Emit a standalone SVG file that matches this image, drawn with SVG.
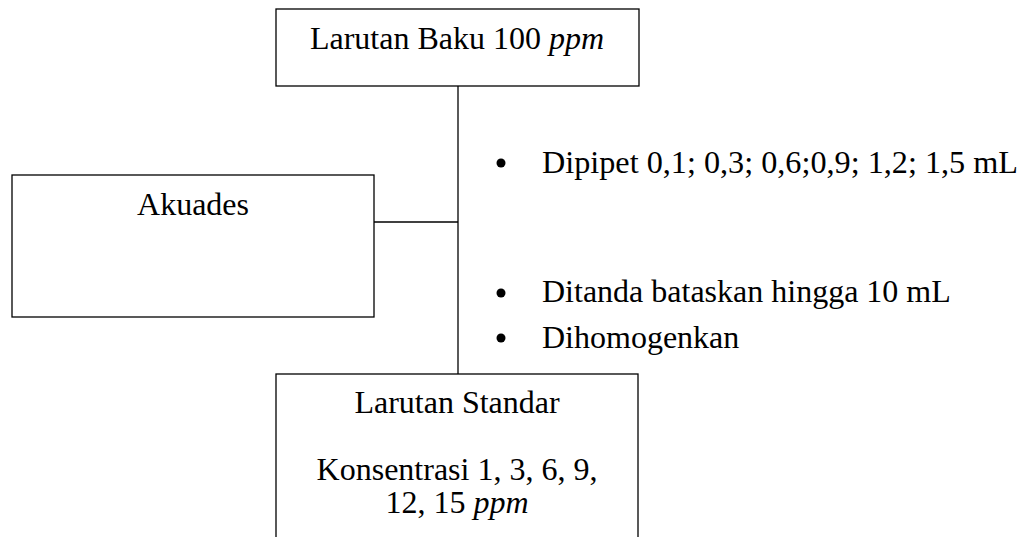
<svg xmlns="http://www.w3.org/2000/svg" width="1021" height="537" viewBox="0 0 1021 537">
<style>
.box{fill:#fff;stroke:#000;stroke-width:1.3}
.ln{stroke:#000;stroke-width:1.3;fill:none}
text{font-family:"Liberation Serif","Times New Roman",serif;font-size:32px;fill:#000}
.c{text-anchor:middle}
</style>
<rect width="1021" height="537" fill="#fff"/>
<g id="connectors">
<line class="ln" x1="458" y1="86" x2="458" y2="374"/>
<line class="ln" x1="374" y1="222" x2="458" y2="222"/>
</g>
<g id="node-baku">
<rect class="box" x="276" y="9" width="363" height="77"/>
<text class="c" x="457" y="49">Larutan Baku 100 <tspan font-style="italic">ppm</tspan></text>
</g>
<g id="node-akuades">
<rect class="box" x="12" y="175" width="362" height="142"/>
<text class="c" x="193" y="215">Akuades</text>
</g>
<g id="label-step1">
<circle cx="501" cy="163" r="4.5"/>
<text x="542" y="173" textLength="476" lengthAdjust="spacingAndGlyphs">Dipipet 0,1; 0,3; 0,6;0,9; 1,2; 1,5 mL</text>
</g>
<g id="label-step2">
<circle cx="501" cy="293" r="4.5"/>
<text x="542" y="302">Ditanda bataskan hingga 10 mL</text>
<circle cx="501" cy="338" r="4.5"/>
<text x="542" y="348">Dihomogenkan</text>
</g>
<g id="node-standar">
<rect class="box" x="276" y="374" width="362" height="180"/>
<text class="c" x="457" y="413">Larutan Standar</text>
<text class="c" x="457" y="480">Konsentrasi 1, 3, 6, 9,</text>
<text class="c" x="457" y="513">12, 15 <tspan font-style="italic">ppm</tspan></text>
</g>
</svg>
